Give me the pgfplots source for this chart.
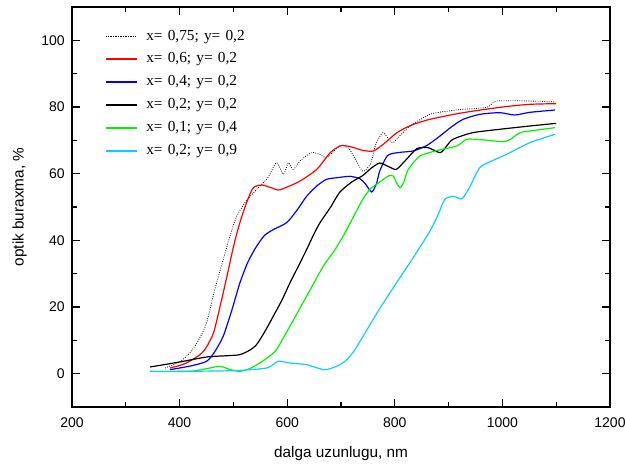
\documentclass[border=0pt]{standalone}
\usepackage{fontspec}
\setmainfont{Liberation Sans}
\newfontfamily\legfont[WordSpace=1.35]{Liberation Serif}
\usepackage{pgfplots}
\pgfplotsset{compat=1.18}
\definecolor{cyanc}{rgb}{0.05,0.8,1}
\definecolor{greenc}{rgb}{0,0.95,0}
\definecolor{bluec}{rgb}{0,0,1}
\newcommand\legline[1]{{\color[rgb]{#1}\vrule height 3.6pt depth -2.0pt width 0.82cm}\hspace{7pt}}
\newcommand\legdots{\textcolor{black}{\leaders\hbox to 1.25pt{\hss\rule[0.45ex]{0.6pt}{0.6pt}\hss}\hskip 0.82cm}\hspace{7pt}}
\begin{document}
\begin{tikzpicture}
\begin{axis}[
  scale only axis, width=403.5pt, height=300pt,
  xmin=200, xmax=1200, ymin=-10, ymax=110,
  xtick={200,400,...,1200}, ytick={0,20,...,100},
  minor x tick num=1, minor y tick num=1,
  tick align=inside, major tick length=6pt, minor tick length=3.5pt,
  axis line style={line width=1.1pt},
  every tick/.style={line width=0.8pt, black},
  tick label style={font=\fontsize{10.5}{12}\selectfont},
  /pgf/number format/assume math mode=true,
  /pgf/number format/set thousands separator={},
  xlabel={dalga uzunlugu, nm}, ylabel={optik buraxma, \%},
  label style={font=\fontsize{11.5}{13}\selectfont},
  xlabel style={yshift=-7.5pt},
  ylabel style={yshift=4pt},
  yticklabel style={xshift=-2pt},
  xticklabel style={yshift=-4.5pt},
  legend style={draw=none, fill=none, at={(axis cs:250,104.8)}, anchor=north west,
    font=\legfont\fontsize{11.5}{13.5}\selectfont, row sep=4.0pt},
  legend image code/.code={},
  legend cell align=left,
  every axis plot/.append style={smooth, tension=0.4, line width=0.9pt},
]
\addplot[black, line width=0.6pt, dash pattern=on 0.6pt off 1.1pt] coordinates {
(373,1.7) (400,3.5) (419,6.2) (435,10) (450,15.2) (465,25) (481,34.2) (495,42) (506,47.2) (520,51) (531,53.2) (549,56.2) (565,59) (580,63.3) (593,59.8) (602,63.3) (611,61.3) (625,64) (645,66.3) (660,65.8) (673,64.8) (685,66.5) (700,68.5) (715,67.5) (728,64) (741,60.7) (755,63) (765,69) (778,72.3) (790,70) (797,69.3) (810,71.5) (830,74.5) (865,77.8) (900,78.8) (927,79.3) (971,79.9) (990,81.8) (1051,81.8) (1100,81.5)};
\addlegendentry{\legdots x= 0,75; y= 0,2}
\addplot[red] coordinates {
(382,1.7) (410,3) (438,5.7) (450,8) (463,12.2) (475,20) (488,29.2) (500,38) (512,45.3) (525,51.5) (537,55.8) (553,56.6) (570,55.8) (584,55.1) (600,56) (624,57.8) (655,61.3) (680,66.3) (700,68.4) (720,68) (740,67) (760,66.8) (780,69) (804,72.3) (830,74.5) (865,76.3) (927,78.3) (1000,80) (1051,80.8) (1100,81)};
\addlegendentry{\legline{1,0,0}x= 0,6; y= 0,2}
\addplot[bluec] coordinates {
(382,1.2) (420,2.3) (450,3.7) (465,6.5) (481,11.2) (497,19) (512,27.2) (527,33.5) (543,38.2) (558,41.5) (574,43.2) (599,45.3) (618,49) (636,53.2) (655,56.3) (673,58.3) (698,58.9) (717,59.2) (735,58.5) (745,57) (757,54.5) (766,57) (772,60.8) (787,65.5) (810,66.4) (834,66.8) (860,68.5) (884,71.3) (905,74) (927,76.3) (958,77.8) (995,78.3) (1023,77.6) (1051,78.4) (1098,79.1)};
\addlegendentry{\legline{0,0,1}x= 0,4; y= 0,2}
\addplot[black] coordinates {
(345,2) (400,3.5) (450,5) (490,5.4) (512,5.7) (530,7) (543,8.7) (558,12.5) (574,17.2) (590,22) (605,27.2) (620,32) (636,37.2) (650,42) (661,45.3) (680,49.8) (698,54.5) (720,57.5) (741,59.5) (755,61.5) (772,63.2) (790,62) (803,61.3) (820,64) (841,67.5) (862,67.8) (884,66.3) (895,68) (908,70.3) (945,72.3) (1000,73.4) (1051,74.3) (1100,75.1)};
\addlegendentry{\legline{0,0,0}x= 0,2; y= 0,2}
\addplot[greenc] coordinates {
(345,0.7) (419,0.7) (450,1.5) (475,2.2) (495,1.2) (512,0.7) (530,1.5) (549,3.2) (565,5) (580,7.2) (605,14.2) (636,23.2) (667,32.2) (689,37.2) (710,43) (730,49.2) (741,52.5) (755,55.5) (772,57.5) (788,59.3) (797,59.3) (804,57) (810,55.8) (817,57.5) (825,61.3) (847,65.3) (880,67) (915,68.3) (934,70.3) (960,70.2) (1001,69.6) (1015,70.3) (1033,72.3) (1060,73) (1098,73.8)};
\addlegendentry{\legline{0,0.95,0}x= 0,1; y= 0,4}
\addplot[cyanc] coordinates {
(345,0.7) (400,0.7) (500,0.9) (562,1.7) (583,3.7) (605,3.2) (636,2.7) (667,1.2) (680,1.5) (698,2.7) (711,4.2) (725,7) (741,11.2) (770,19) (803,27.2) (835,35) (865,42.7) (880,47.5) (893,52.3) (909,53.2) (924,52.4) (932,54) (940,56.2) (958,61.8) (980,63.8) (1008,65.8) (1051,69.3) (1098,71.8)};
\addlegendentry{\legline{0.05,0.8,1}x= 0,2; y= 0,9}
\end{axis}
\pgfresetboundingbox
\path ([shift={(-54pt,-46.5pt)}]current axis.south west) rectangle ([shift={(11.25pt,5.25pt)}]current axis.north east);
\end{tikzpicture}
\end{document}
